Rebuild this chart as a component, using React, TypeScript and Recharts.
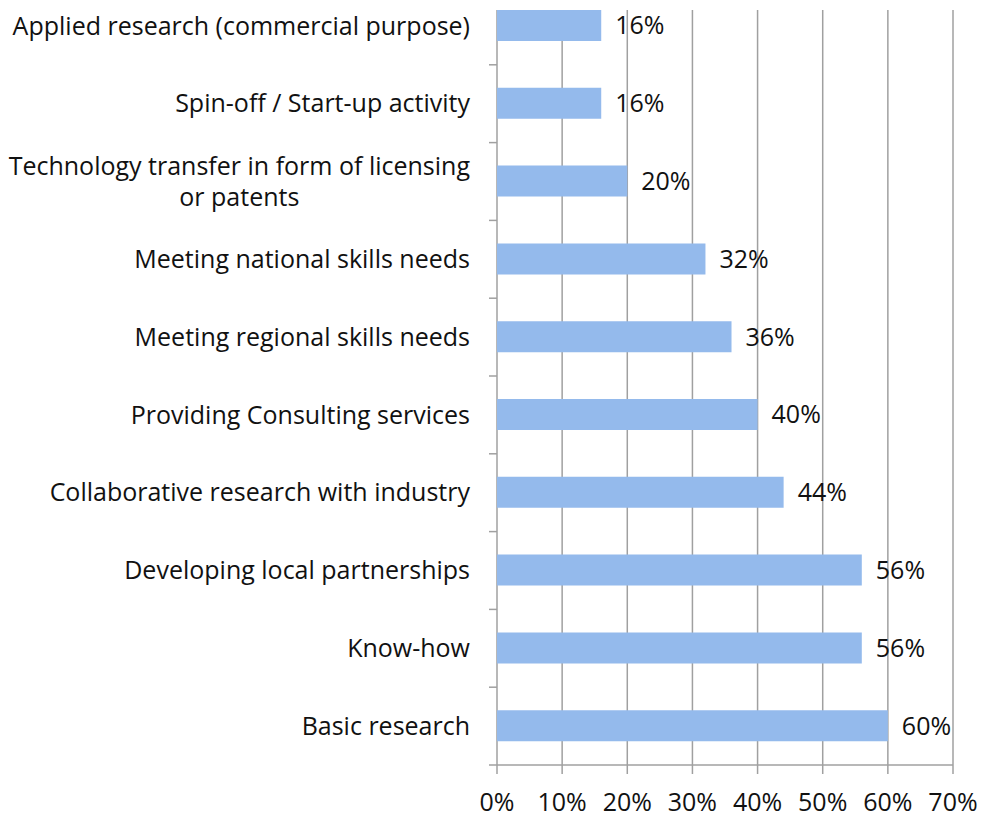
import { BarChart, Bar, XAxis, YAxis, CartesianGrid, LabelList } from 'recharts'

const CATEGORIES = [
  'Applied research (commercial purpose)',
  'Spin-off / Start-up activity',
  'Technology transfer in form of licensing or patents',
  'Meeting national skills needs',
  'Meeting regional skills needs',
  'Providing Consulting services',
  'Collaborative research with industry',
  'Developing local partnerships',
  'Know-how',
  'Basic research',
]
const VALUES = [16, 16, 20, 32, 36, 40, 44, 56, 56, 60]
const X_TICKS = [0, 10, 20, 30, 40, 50, 60, 70]

const FONT = '"Open Sans", sans-serif'
const FONT_SIZE = 25
const TEXT = '#111'
const AXIS = '#a0a0a0'
const BAR = '#94BAEC'

const CHART_W = 981
const CHART_H = 831
const MARGIN = { top: 0, right: 28, bottom: 0, left: 0 }
const Y_AXIS_W = 497
const X_AXIS_H = 53
const PLOT_H = CHART_H - MARGIN.top - MARGIN.bottom - X_AXIS_H
const BAND = PLOT_H / CATEGORIES.length
// the top of the plot sits above the page; grid lines only start 23px in
const GRID_TOP = 23

const data = CATEGORIES.map((name, i) => ({ name, value: VALUES[i] }))

let ctx: CanvasRenderingContext2D | null = null
function measure(s: string) {
  if (!ctx) ctx = document.createElement('canvas').getContext('2d')
  if (!ctx) return s.length * FONT_SIZE * 0.55
  ctx.font = `${FONT_SIZE}px "Open Sans"`
  return ctx.measureText(s).width
}

function wrap(text: string, max: number) {
  const words = text.split(' ')
  const lines: string[] = []
  let cur = ''
  for (const w of words) {
    const next = cur ? cur + ' ' + w : w
    if (cur && measure(next) > max) {
      lines.push(cur)
      cur = w
    } else {
      cur = next
    }
  }
  if (cur) lines.push(cur)
  return lines
}

function CategoryTick(props: any) {
  const { x, y, payload } = props
  const lines = wrap(payload.value, 475)
  const right = x - 27
  const lh = 31
  const widest = Math.max(...lines.map(measure))
  const cx = right - widest / 2
  const y0 = y - ((lines.length - 1) * lh) / 2 + FONT_SIZE * 0.35
  return (
    <g>
      <line x1={x - 8} x2={x} y1={y + BAND / 2} y2={y + BAND / 2} stroke={AXIS} strokeWidth={1.5} />
      <text x={cx} y={y0} textAnchor="middle" fill={TEXT} fontFamily={FONT} fontSize={FONT_SIZE}>
        {lines.map((l, i) => (
          <tspan key={i} x={cx} dy={i === 0 ? 0 : lh}>
            {l}
          </tspan>
        ))}
      </text>
    </g>
  )
}

export default function App() {
  return (
    <div style={{ position: 'absolute', left: 0, top: 0, width: 981, height: 818, overflow: 'hidden', background: '#fff' }}>
      <div style={{ position: 'absolute', left: 0, top: -13 }}>
        <BarChart width={CHART_W} height={CHART_H} data={data} layout="vertical" margin={MARGIN} barSize={31}>
          <CartesianGrid
            horizontal={false}
            y={GRID_TOP}
            height={PLOT_H - GRID_TOP}
            stroke={AXIS}
            strokeWidth={1.5}
          />
          <XAxis
            type="number"
            domain={[0, 70]}
            ticks={X_TICKS}
            interval={0}
            height={X_AXIS_H}
            tickSize={9}
            tickMargin={19}
            tickFormatter={(v: number) => `${v}%`}
            axisLine={{ stroke: AXIS, strokeWidth: 1.5 }}
            tickLine={{ stroke: AXIS, strokeWidth: 1.5 }}
            tick={{ fill: TEXT, fontFamily: FONT, fontSize: FONT_SIZE }}
          />
          <YAxis
            type="category"
            dataKey="name"
            width={Y_AXIS_W}
            interval={0}
            tickSize={0}
            tickMargin={0}
            tickLine={false}
            axisLine={false}
            tick={<CategoryTick />}
          />
          <Bar dataKey="value" fill={BAR} isAnimationActive={false}>
            <LabelList
              dataKey="value"
              position="right"
              offset={14}
              formatter={(v: any) => `${v}%`}
              fill={TEXT}
              fontFamily={FONT}
              fontSize={FONT_SIZE}
            />
          </Bar>
        </BarChart>
      </div>
    </div>
  )
}
